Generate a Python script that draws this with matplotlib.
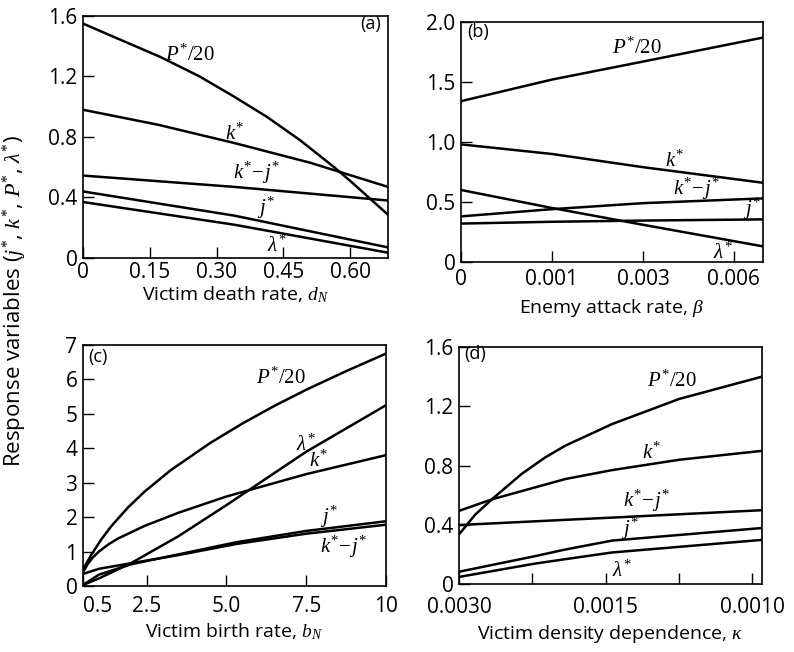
import numpy as np
import matplotlib
matplotlib.use("Agg")
import matplotlib.pyplot as plt

plt.rcParams['font.family'] = ['Open Sans', 'DejaVu Sans']
plt.rcParams['mathtext.fontset'] = 'custom'
plt.rcParams['mathtext.it'] = 'Liberation Serif:italic'
plt.rcParams['mathtext.rm'] = 'Liberation Serif'
plt.rcParams['mathtext.bf'] = 'Liberation Serif:bold'

# (a) victim death rate d_N
a_P_x = [0, 0.076, 0.173, 0.262, 0.3375, 0.412, 0.487, 0.562, 0.60, 0.685]
a_P_y = [1.55, 1.453, 1.33, 1.2, 1.07, 0.935, 0.78, 0.605, 0.51, 0.286]
a_k_x = [0, 0.17, 0.34, 0.51, 0.685]
a_k_y = [0.98, 0.88, 0.76, 0.63, 0.47]
a_kj_x = [0, 0.34, 0.685]
a_kj_y = [0.545, 0.47, 0.38]
a_j_x = [0, 0.34, 0.685]
a_j_y = [0.44, 0.28, 0.07]
a_l_x = [0, 0.34, 0.685]
a_l_y = [0.37, 0.22, 0.035]
a_ticks = [0, 0.15, 0.30, 0.45, 0.60]
a_ticklabels = ['0', '0.15', '0.30', '0.45', '0.60']
a_yticks = [0, 0.4, 0.8, 1.2, 1.6]
a_yticklabels = ['0', '0.4', '0.8', '1.2', '1.6']

# (b) enemy attack rate beta (axis is evenly spaced at 0, 0.001, 0.003, 0.006)
b_x = [0, 1, 2, 3.32]
b_P_y = [1.34, 1.52, 1.67, 1.87]
b_k_y = [0.98, 0.90, 0.79, 0.66]
b_kj_y = [0.38, 0.44, 0.49, 0.53]
b_j_y = [0.32, 0.335, 0.345, 0.355]
b_l_y = [0.60, 0.45, 0.31, 0.13]
b_ticks = [0, 1, 2, 3]
b_ticklabels = ['0', '0.001', '0.003', '0.006']
b_yticks = [0, 0.5, 1.0, 1.5, 2.0]
b_yticklabels = ['0', '0.5', '1.0', '1.5', '2.0']

# (c) victim birth rate b_N
c_P_x = [0.5, 0.77, 1.08, 1.39, 1.91, 2.43, 3.26, 4.5, 5.5, 6.5, 7.5, 8.75, 10]
c_P_y = [0.48, 0.92, 1.36, 1.74, 2.28, 2.74, 3.37, 4.16, 4.72, 5.23, 5.70, 6.24, 6.75]
c_k_x = [0.5, 0.65, 0.8, 1.0, 1.3, 1.6, 2.43, 3.5, 5.0, 7.5, 10]
c_k_y = [0.4, 0.64, 0.82, 1.0, 1.21, 1.38, 1.745, 2.13, 2.6, 3.25, 3.8]
c_l_x = [0.5, 1.0, 2.0, 3.5, 5.0, 7.5, 10]
c_l_y = [0.03, 0.22, 0.66, 1.45, 2.35, 3.9, 5.25]
c_j_x = [0.5, 1.0, 2.0, 3.5, 5.3, 7.5, 10]
c_j_y = [0.03, 0.33, 0.63, 0.92, 1.27, 1.6, 1.88]
c_kj_y = [0.35, 0.5, 0.66, 0.9, 1.22, 1.52, 1.78]
c_ticks = [0.5, 2.5, 5.0, 7.5, 10]
c_ticklabels = ['0.5', '2.5', '5.0', '7.5', '10']
c_yticks = [0, 1, 2, 3, 4, 5, 6, 7]

# (d) victim density dependence kappa (axis linear in 1/kappa)
d_P_x = [333, 370, 408, 476, 529, 575, 681, 834, 1022]
d_P_y = [0.335, 0.469, 0.573, 0.745, 0.855, 0.935, 1.08, 1.25, 1.40]
d_k_x = [333, 408, 575, 681, 834, 1022]
d_k_y = [0.495, 0.573, 0.71, 0.77, 0.84, 0.90]
d_kj_x = [333, 575, 681, 1022]
d_kj_y = [0.40, 0.435, 0.45, 0.50]
d_j_x = [333, 506, 575, 681, 1022]
d_j_y = [0.085, 0.19, 0.235, 0.295, 0.38]
d_l_y = [0.05, 0.14, 0.17, 0.215, 0.30]
d_ticks = [1 / 0.003, 500, 1 / 0.0015, 833.3, 1 / 0.001]
d_ticklabels = ['0.0030', '', '0.0015', '', '0.0010']
d_yticks = [0, 0.4, 0.8, 1.2, 1.6]
d_yticklabels = ['0', '0.4', '0.8', '1.2', '1.6']

LW = 1.8
LAB = dict(fontsize=15, ha='center', va='center')


def style(ax, xlim, ylim, xt, xtl, yt, ytl, xlabel, xpad, lpad):
    ax.set_xlim(*xlim)
    ax.set_ylim(*ylim)
    ax.set_xticks(xt)
    ax.set_xticklabels(xtl)
    ax.set_yticks(yt)
    ax.set_yticklabels(ytl)
    ax.tick_params(direction='in', length=8, width=1, labelsize=15)
    ax.tick_params(axis='x', pad=xpad)
    ax.tick_params(axis='y', pad=4)
    for s in ax.spines.values():
        s.set_linewidth(1.2)
    ax.set_xlabel(xlabel, fontsize=14, labelpad=lpad)


fig = plt.figure(figsize=(7.94, 6.52), dpi=100)

# panel a
ax = fig.add_axes([0.1045, 0.6043, 0.3842, 0.3712])
ax.plot(a_P_x, a_P_y, 'k-', lw=LW)
ax.plot(a_k_x, a_k_y, 'k-', lw=LW)
ax.plot(a_kj_x, a_kj_y, 'k-', lw=LW)
ax.plot(a_j_x, a_j_y, 'k-', lw=LW)
ax.plot(a_l_x, a_l_y, 'k-', lw=LW)
style(ax, (0, 0.685), (0, 1.6), a_ticks, a_ticklabels, a_yticks, a_yticklabels,
      'Victim death rate, $d_N$', 3, 1)
ax.text(0.24, 1.34, r'$P^{*}/20$', **LAB)
ax.text(0.34, 0.82, r'$k^{*}$', **LAB)
ax.text(0.39, 0.565, r'$k^{*}\!-\!j^{*}$', **LAB)
ax.text(0.41, 0.33, r'$j^{*}$', **LAB)
ax.text(0.435, 0.08, r'$\lambda^{*}$', **LAB)
ax.text(0.645, 1.55, '(a)', fontsize=13, ha='center', va='center')

# panel b
ax = fig.add_axes([0.5806, 0.5982, 0.3804, 0.3681])
for yy in [b_P_y, b_k_y, b_kj_y, b_j_y, b_l_y]:
    ax.plot(b_x, yy, 'k-', lw=LW)
style(ax, (0, 3.32), (0, 2.0), b_ticks, b_ticklabels, b_yticks, b_yticklabels,
      r'Enemy attack rate, $\beta$', 5, 5)
ax.text(1.93, 1.78, r'$P^{*}/20$', **LAB)
ax.text(2.35, 0.84, r'$k^{*}$', **LAB)
ax.text(2.59, 0.61, r'$k^{*}\!-\!j^{*}$', **LAB)
ax.text(3.2, 0.44, r'$j^{*}$', **LAB)
ax.text(2.88, 0.07, r'$\lambda^{*}$', **LAB)
ax.text(0.19, 1.92, '(b)', fontsize=13, ha='center', va='center')

# panel c
ax = fig.add_axes([0.1045, 0.1012, 0.3816, 0.3697])
ax.plot(c_P_x, c_P_y, 'k-', lw=LW)
ax.plot(c_k_x, c_k_y, 'k-', lw=LW)
ax.plot(c_l_x, c_l_y, 'k-', lw=LW)
ax.plot(c_j_x, c_j_y, 'k-', lw=LW)
ax.plot(c_j_x, c_kj_y, 'k-', lw=LW)
style(ax, (0.5, 10), (0, 7), c_ticks, c_ticklabels, c_yticks,
      [str(v) for v in c_yticks], 'Victim birth rate, $b_N$', 7, 3)
ax.get_xticklabels()[0].set_ha('left')
ax.text(6.71, 6.03, r'$P^{*}/20$', **LAB)
ax.text(7.48, 4.1, r'$\lambda^{*}$', **LAB)
ax.text(7.9, 3.62, r'$k^{*}$', **LAB)
ax.text(8.2, 2.02, r'$j^{*}$', **LAB)
ax.text(8.67, 1.15, r'$k^{*}\!-\!j^{*}$', **LAB)
ax.text(0.98, 6.65, '(c)', fontsize=13, ha='center', va='center')

# panel d
ax = fig.add_axes([0.578, 0.1037, 0.3817, 0.3641])
ax.plot(d_P_x, d_P_y, 'k-', lw=LW)
ax.plot(d_k_x, d_k_y, 'k-', lw=LW)
ax.plot(d_kj_x, d_kj_y, 'k-', lw=LW)
ax.plot(d_j_x, d_j_y, 'k-', lw=LW)
ax.plot(d_j_x, d_l_y, 'k-', lw=LW)
style(ax, (1 / 0.003, 1022), (0, 1.6), d_ticks, d_ticklabels, d_yticks, d_yticklabels,
      r'Victim density dependence, $\kappa$', 9, 4)
ax.text(817, 1.37, r'$P^{*}/20$', **LAB)
ax.text(772, 0.885, r'$k^{*}$', **LAB)
ax.text(760, 0.565, r'$k^{*}\!-\!j^{*}$', **LAB)
ax.text(721, 0.375, r'$j^{*}$', **LAB)
ax.text(703, 0.09, r'$\lambda^{*}$', **LAB)
ax.text(370, 1.55, '(d)', fontsize=13, ha='center', va='center')

fig.text(0.019, 0.538, r'Response variables ($j^{*}$, $k^{*}$, $P^{*}$, $\lambda^{*}$)',
         rotation=90, fontsize=16, ha='center', va='center')

fig.savefig('out.png', dpi=100)
